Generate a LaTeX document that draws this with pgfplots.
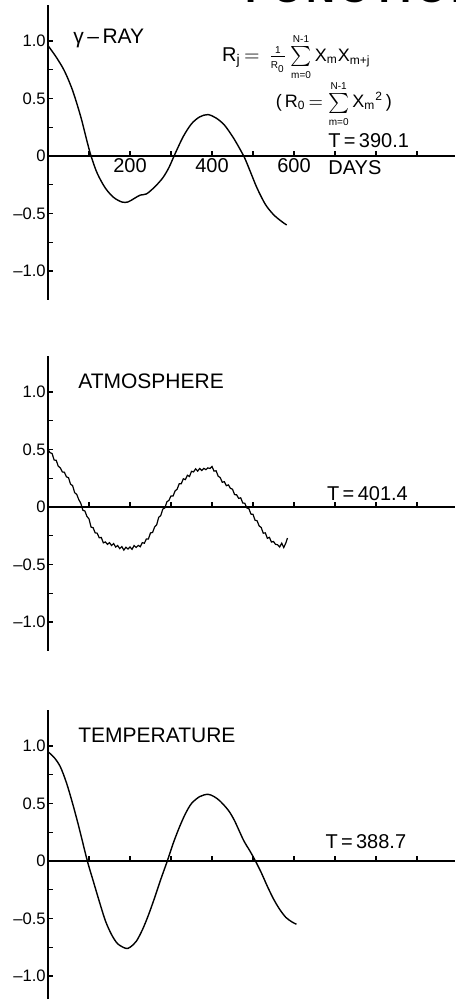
\documentclass[border=0pt]{standalone}
\usepackage{fontspec}
\setmainfont{Liberation Sans}
\usepackage{pgfplots}
\pgfplotsset{compat=1.18}

\pgfplotstableread{
d v
0 0.96
20 0.86
40 0.74
60 0.57
80 0.34
95 0.13
105 0.00
120 -0.15
140 -0.28
160 -0.36
180 -0.40
195 -0.40
210 -0.37
225 -0.34
240 -0.33
260 -0.27
280 -0.19
295 -0.10
310 0.02
330 0.17
350 0.28
370 0.34
390 0.36
410 0.33
430 0.27
450 0.17
465 0.08
480 -0.02
495 -0.15
510 -0.28
530 -0.42
550 -0.51
570 -0.57
582 -0.60
}\gammaray

\pgfplotstableread{
d v
0 0.500
5 0.472
10 0.465
15 0.408
20 0.406
25 0.355
30 0.340
35 0.305
40 0.302
45 0.262
50 0.255
55 0.198
60 0.186
65 0.125
70 0.110
75 0.065
80 0.032
85 -0.028
90 -0.035
95 -0.082
100 -0.104
105 -0.175
110 -0.180
115 -0.225
120 -0.228
125 -0.268
130 -0.265
135 -0.312
140 -0.304
145 -0.325
150 -0.310
155 -0.335
160 -0.318
165 -0.348
170 -0.335
175 -0.362
180 -0.344
185 -0.375
190 -0.350
195 -0.365
200 -0.348
205 -0.368
210 -0.335
215 -0.352
220 -0.334
225 -0.345
230 -0.310
235 -0.315
240 -0.278
245 -0.278
250 -0.225
255 -0.222
260 -0.174
265 -0.155
270 -0.090
275 -0.075
280 -0.018
285 -0.008
290 0.045
295 0.058
300 0.096
305 0.095
310 0.140
315 0.155
320 0.202
325 0.202
330 0.245
335 0.238
340 0.276
345 0.265
350 0.310
355 0.305
360 0.332
365 0.312
370 0.335
375 0.318
380 0.336
385 0.325
390 0.340
395 0.335
400 0.352
405 0.312
410 0.315
415 0.268
420 0.256
425 0.215
430 0.220
435 0.185
440 0.192
445 0.162
450 0.155
455 0.108
460 0.106
465 0.075
470 0.080
475 0.035
480 0.032
485 -0.008
490 -0.015
495 -0.062
500 -0.064
505 -0.115
510 -0.120
515 -0.165
520 -0.178
525 -0.228
530 -0.225
535 -0.272
540 -0.264
545 -0.305
550 -0.300
555 -0.325
560 -0.328
565 -0.348
570 -0.315
575 -0.352
580 -0.314
584 -0.270
}\atmos

\pgfplotstableread{
d v
0 0.95
15 0.90
30 0.82
45 0.68
60 0.50
75 0.30
96 0.00
110 -0.17
125 -0.35
140 -0.52
155 -0.64
170 -0.72
190 -0.76
200 -0.75
215 -0.70
230 -0.60
245 -0.47
260 -0.32
275 -0.16
291 0.00
305 0.15
320 0.29
335 0.41
350 0.50
370 0.56
390 0.58
405 0.56
420 0.52
440 0.44
455 0.35
477 0.18
492 0.09
506 0.00
520 -0.10
535 -0.22
550 -0.33
565 -0.42
580 -0.49
595 -0.53
606 -0.55
}\temper

\pgfplotsset{panel/.style={
  x=0.205pt, y=57.5pt,
  xmin=0, xmax=993, ymin=-1.25, ymax=1.31,
  axis lines=middle,
  axis line style={line width=0.8pt, -},
  xtick={100,200,...,900},
  xticklabels={},
  ytick={-1,-0.5,0,0.5,1},
  yticklabels={\textendash1.0,\textendash0.5,0,0.5,1.0},
  minor ytick={-0.75,-0.25,0.25,0.75},
  hide obscured x ticks=false,
  hide obscured y ticks=false,
  tick align=inside,
  major tick length=2.5pt, minor tick length=2.5pt,
  tick style={line width=0.6pt, black},
  yticklabel style={font=\fontsize{8.3}{9}\selectfont, inner sep=1pt},
  xticklabel style={font=\fontsize{10}{12}\selectfont, inner sep=1pt},
  clip=false,
  anchor=origin,
}}

\begin{document}
\begin{tikzpicture}
\useasboundingbox (0,0) rectangle (227.5pt,500pt);

\node[anchor=base west, inner sep=0pt, font=\fontsize{20}{24}\selectfont\bfseries] at (122.5pt,498.5pt)
  {F\kern2pt U\kern2pt N\kern2pt C\kern2pt T\kern2pt I\kern2pt O\kern2pt N};

% Panel 1
\begin{axis}[panel, at={(24pt,422pt)},
  xticklabels={{},200,{},400,{},600,{},{},{}}]
\addplot[black, line width=0.7pt, smooth] table[x=d,y=v] {\gammaray};
\node[anchor=base west, inner sep=0pt, font=\fontsize{10.5}{12}\selectfont] at (axis cs:61,0.98) {γ\,–\,RAY};
\node[anchor=base west, inner sep=0pt, font=\fontsize{9}{10}\selectfont] at (axis cs:424,0.82)
  {\fontsize{10}{12}\selectfont R\textsubscript{j}$\,=\,\frac{\mbox{\tiny 1}}{\mbox{\tiny R\textsubscript{0}}}\sum\limits_{\mbox{\tiny m=0}}^{\mbox{\tiny N-1}}$\,\fontsize{9}{10}\selectfont X\textsubscript{m}X\textsubscript{m+j}};
\node[anchor=base west, inner sep=0pt, font=\fontsize{9}{10}\selectfont] at (axis cs:555,0.42)
  {(\,R\textsubscript{0}\,$=\sum\limits_{\mbox{\tiny m=0}}^{\mbox{\tiny N-1}}$\,X\textsubscript{m}\textsuperscript{2}\,)};
\node[anchor=base west, inner sep=0pt, font=\fontsize{10}{12}\selectfont] at (axis cs:683,0.07) {T\,=\,390.1};
\node[anchor=base west, inner sep=0pt, font=\fontsize{10}{12}\selectfont] at (axis cs:683,-0.165) {DAYS};
\end{axis}

% Panel 2
\begin{axis}[panel, at={(24pt,246.5pt)}]
\addplot[black, line width=0.6pt] table[x=d,y=v] {\atmos};
\node[anchor=base west, inner sep=0pt, font=\fontsize{10.5}{12}\selectfont] at (axis cs:73,1.03) {ATMOSPHERE};
\node[anchor=base west, inner sep=0pt, font=\fontsize{10}{12}\selectfont] at (axis cs:680,0.06) {T\,=\,401.4};
\end{axis}

% Panel 3
\begin{axis}[panel, at={(24pt,69.5pt)}, ymin=-1.2]
\addplot[black, line width=0.7pt, smooth] table[x=d,y=v] {\temper};
\node[anchor=base west, inner sep=0pt, font=\fontsize{10.5}{12}\selectfont] at (axis cs:73,1.03) {TEMPERATURE};
\node[anchor=base west, inner sep=0pt, font=\fontsize{10}{12}\selectfont] at (axis cs:676,0.11) {T\,=\,388.7};
\end{axis}
\end{tikzpicture}
\end{document}
